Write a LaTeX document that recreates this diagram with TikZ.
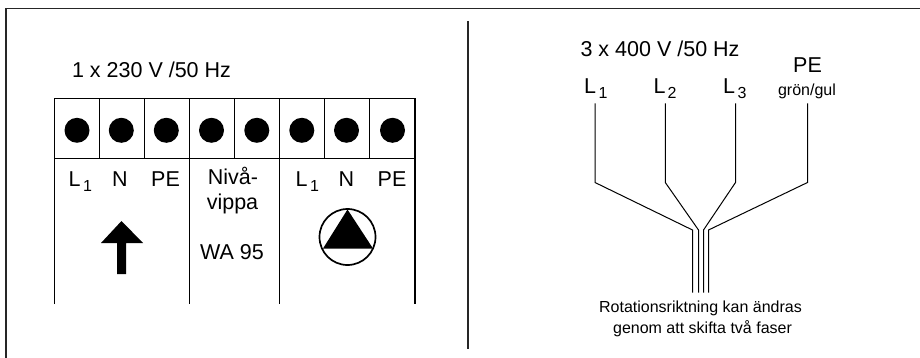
\documentclass[tikz,border=0pt]{standalone}
\usepackage{fontspec}
\setmainfont{Liberation Sans}
\tikzset{
  line/.style={line width=1.2pt,draw=black,line cap=butt},
  thin line/.style={line width=1pt,draw=black},
  frameline/.style={line width=1.3pt,draw=black!85},
  dot/.style={circle,fill=black,minimum size=25pt,inner sep=0pt},
  big/.style={font=\fontsize{21.5}{21.5}\selectfont,inner sep=0pt,anchor=base},
  sub/.style={font=\fontsize{16}{16}\selectfont,inner sep=0pt,anchor=base},
  small/.style={font=\fontsize{16}{16}\selectfont,inner sep=0pt,anchor=base},
}
\begin{document}
\begin{tikzpicture}[x=1pt,y=-1pt]
\useasboundingbox (0,0) rectangle (920,358);
\coordinate (fa) at (6,358);
\coordinate (fb) at (6,8.5);
\coordinate (fc) at (920,8.5);
\draw[frameline] (fa) -- (fb) -- (fc);
\coordinate (da) at (468,21);
\coordinate (db) at (468,349);
\draw[frameline] (da) -- (db);
% terminal block
\coordinate (tl) at (54.5,98.5);
\coordinate (tr) at (415,98.5);
\coordinate (ml) at (54.5,158.5);
\coordinate (mr) at (415,158.5);
\coordinate (bl) at (54.5,304);
\coordinate (br) at (415,304);
\draw[line] (bl) -- (tl) -- (tr) -- (br);
\draw[line] (ml) -- (mr);
\foreach \x in {99.5,144.5,234.5,279.5,324.5,369.5}{
  \draw[thin line] (\x,98.5) -- (\x,158.5);
}
\coordinate (va) at (189.3,98.5);
\coordinate (vb) at (189.3,304);
\coordinate (vc) at (279.5,158.5);
\coordinate (vd) at (279.5,304);
\draw[line] (va) -- (vb);
\draw[line] (vc) -- (vd);
\foreach \x/\n in {77/1,121.3/2,166.3/3,211.5/4,256.8/5,301.8/6,346.5/7,392.5/8}{
  \node[dot] (d\n) at (\x,130.3) {};
}
% left labels
\node[big] (t1) at (151.5,77.3) {1 x 230 V /50 Hz};
\node[big] (l1) at (74.5,186) {L};
\node[sub] (l1s) at (87.5,191.7) {1};
\node[big] (n1) at (120,186) {N};
\node[big] (pe1) at (165.5,186) {PE};
\node[big] (niva) at (233,184.3) {Nivå-};
\node[big] (vippa) at (232.5,209.3) {vippa};
\node[big] (wa) at (232,259) {WA 95};
\node[big] (l2) at (301.5,186) {L};
\node[sub] (l2s) at (314.5,191.7) {1};
\node[big] (n2) at (346.5,186) {N};
\node[big] (pe2) at (392,186) {PE};
% arrow
\fill (121.5,221) -- (143,243) -- (126,243) -- (126,274) -- (117,274) -- (117,243) -- (101,243) -- cycle;
% pump
\node[circle,draw=black,line width=1.7pt,minimum size=56pt,inner sep=0pt] (pump) at (347.5,237) {};
\fill (347.5,209.5) -- (373,248.5) -- (323,248.5) -- cycle;
% right labels
\node[big] (t2) at (660,56.7) {3 x 400 V /50 Hz};
\node[big] (ra) at (590,93.3) {L};
\node[sub] (ras) at (603,98.7) {1};
\node[big] (rb) at (659.5,93.3) {L};
\node[sub] (rbs) at (672,98.7) {2};
\node[big] (rc) at (729,93.3) {L};
\node[sub] (rcs) at (742,98.7) {3};
\node[big] (rd) at (807.5,72.7) {PE};
\node[small] (re) at (807,95.5) {grön/gul};
\node[small] (rf) at (700.5,312.3) {Rotationsriktning kan ändras};
\node[small] (rg) at (702.5,333.3) {genom att skifta två faser};
% wires
\coordinate (a1) at (595,103.5); \coordinate (a2) at (595,182.5); \coordinate (a3) at (692.5,230); \coordinate (a4) at (692.5,292.5);
\coordinate (b1) at (665.3,103.5); \coordinate (b2) at (665.3,182.5); \coordinate (b3) at (698.5,230); \coordinate (b4) at (698.5,292.5);
\coordinate (c1) at (735.5,103.5); \coordinate (c2) at (735.5,182.5); \coordinate (c3) at (703.5,230); \coordinate (c4) at (703.5,292.5);
\coordinate (e1) at (807.5,103.5); \coordinate (e2) at (807.5,182.5); \coordinate (e3) at (708.5,230); \coordinate (e4) at (708.5,292.5);
\draw[thin line] (a1) -- (a2) -- (a3) -- (a4);
\draw[thin line] (b1) -- (b2) -- (b3) -- (b4);
\draw[thin line] (c1) -- (c2) -- (c3) -- (c4);
\draw[thin line] (e1) -- (e2) -- (e3) -- (e4);
\end{tikzpicture}
\end{document}
